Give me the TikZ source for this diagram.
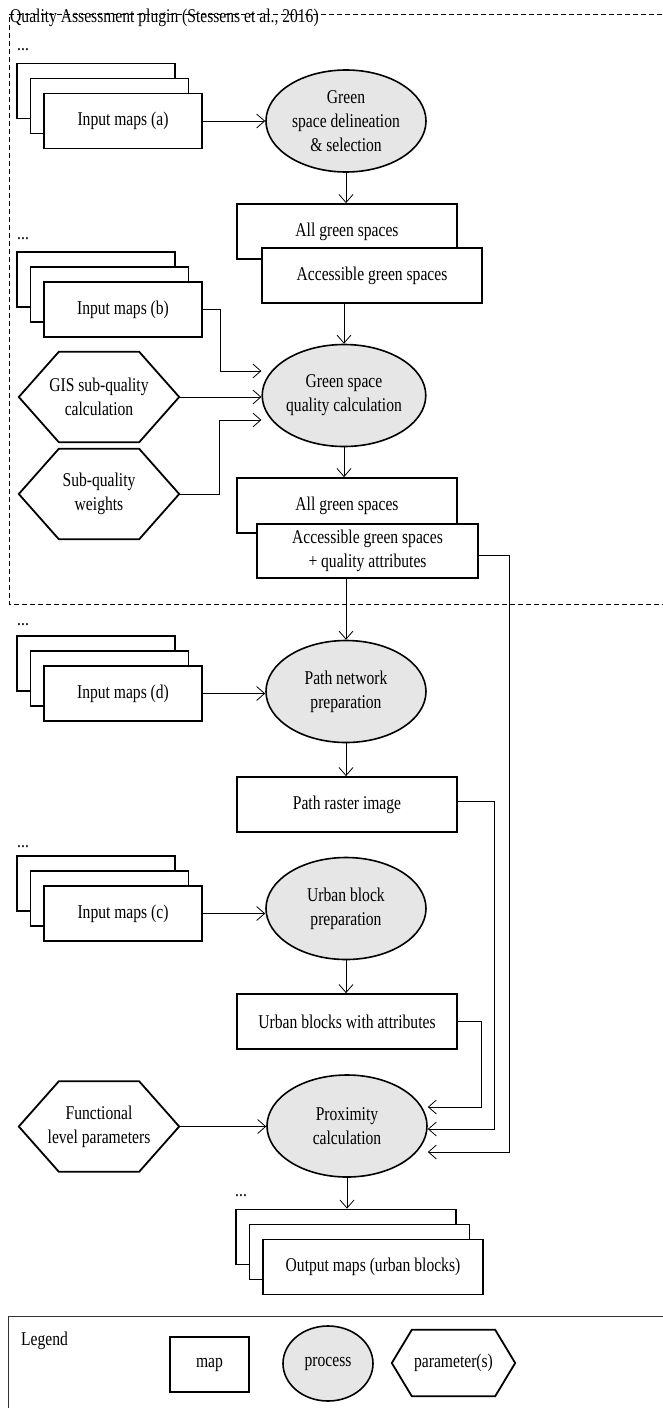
\documentclass[tikz,border=0pt]{standalone}
\usepackage{fontspec}
\setmainfont{Liberation Serif}[FakeStretch=0.8]
\usetikzlibrary{shapes.geometric,arrows.meta,calc}
\definecolor{procgray}{RGB}{230,230,230}
\newcommand\mapstack[5]{% name, x, y, width, text
  \node[mapbox,minimum width=#4] (#1-3) at (#2-27,#3-30) {};
  \node[mapbox,minimum width=#4] (#1-2) at (#2-13.5,#3-15) {};
  \node[mapbox,minimum width=#4] (#1) at (#2,#3) {#5};
}
\newcommand\hexnode[7]{% name, x, y, text, width, height, slant
  \node[hexbox,minimum width=#5,minimum height=#6] (#1) at (#2,#3) {#4};
  \draw[hexline] (#1.west) -- ([xshift=#7]#1.north west) -- ([xshift=-#7]#1.north east)
    -- (#1.east) -- ([xshift=-#7]#1.south east) -- ([xshift=#7]#1.south west) -- cycle;
}
\begin{document}
\begin{tikzpicture}[x=1pt,y=-1pt,
  every node/.style={font=\fontsize{19.5}{24}\selectfont},
  mapbox/.style={draw,line width=1.8pt,fill=white,minimum width=158pt,minimum height=55pt,inner sep=0pt,align=center},
  proc/.style={ellipse,draw,line width=1.6pt,fill=procgray,minimum width=160pt,minimum height=102pt,inner sep=0pt,align=center},
  hexbox/.style={inner sep=0pt,align=center},
  hexline/.style={line width=1.8pt,line join=miter},
  conn/.style={line width=0.8pt,-{Straight Barb[length=8pt,width=14pt]}},
  plugframe/.style={line width=0.8pt,dash pattern=on 5pt off 3pt},
  legframe/.style={line width=1pt,draw=black!80},
  dots/.style={anchor=base west,inner sep=0pt}
]
\useasboundingbox (0,0) rectangle (663,1408);
\clip (0,0) rectangle (663,1408);

% frames
\draw[plugframe] (670,14) -- (9,14) -- (9,604) -- (670,604);
\node[anchor=base west,inner sep=0pt] (title) at (10,23) {Quality Assessment plugin (Stessens et al., 2016)};
\draw[legframe] (8,1316) rectangle (680,1420);

% dots
\node[dots] (dotsa) at (17,50) {...};
\node[dots] (dotsb) at (17,239) {...};
\node[dots] (dotsd) at (17,625) {...};
\node[dots] (dotsc) at (17,847) {...};
\node[dots] (dotso) at (235,1196) {...};

% map stacks
\mapstack{a1}{123}{121}{158pt}{Input maps (a)}
\mapstack{b1}{123}{309.5}{158pt}{Input maps (b)}
\mapstack{d1}{123}{693.5}{158pt}{Input maps (d)}
\mapstack{c1}{123}{913.5}{158pt}{Input maps (c)}
\mapstack{out}{373}{1267}{220pt}{Output maps (urban blocks)}

% processes
\node[proc] (e1) at (346,121) {Green\\space delineation\\\& selection};
\node[proc] (e2) at (344,395.5) {Green space\\quality calculation};
\node[proc] (e3) at (346,691.5) {Path network\\preparation};
\node[proc] (e4) at (346,908.5) {Urban block\\preparation};
\node[proc] (e5) at (347,1126) {Proximity\\calculation};

% green space maps
\node[mapbox,minimum width=220pt] (g1b) at (347,231.5) {All green spaces};
\node[mapbox,minimum width=220pt] (g1f) at (372,275.5) {Accessible green spaces};
\node[mapbox,minimum width=220pt] (g2b) at (347,505.5) {All green spaces};
\node[mapbox,minimum width=221pt,minimum height=54pt] (g2f) at (367.5,551) {Accessible green spaces\\+ quality attributes};
\node[mapbox,minimum width=220pt] (raster) at (347,804.5) {Path raster image};
\node[mapbox,minimum width=220pt] (urban) at (347,1021.5) {Urban blocks with attributes};

% parameters
\hexnode{gis}{99}{397}{GIS sub-quality\\calculation}{160pt}{90pt}{40pt}
\hexnode{sub}{99}{494}{Sub-quality\\weights}{160pt}{90pt}{40pt}
\hexnode{func}{99}{1126.5}{Functional\\level parameters}{160pt}{90pt}{40pt}

% connectors
\coordinate (e2a) at ($(e2.west)+(0,-24.5)$);
\coordinate (e2c) at ($(e2.west)+(0,24.5)$);
\coordinate (e5a) at ($(e5.east)+(0,-19)$);
\coordinate (e5b) at ($(e5.east)+(0,3)$);
\coordinate (e5c) at ($(e5.east)+(0,26)$);

\draw[conn] (a1.east) -- (a1.east -| e1.west);
\draw[conn] (e1.south) -- (e1.south |- g1b.north);
\draw[conn] (e2.north |- g1f.south) -- (e2.north);
\draw[conn] (b1.east) -- ++(17,0) |- (e2a);
\draw[conn] (gis.east) -- (gis.east -| e2.west);
\draw[conn] (sub.east) -- ++(40,0) |- (e2c);
\draw[conn] (e2.south) -- (e2.south |- g2b.north);
\draw[conn] (e3.north |- g2f.south) -- (e3.north);
\draw[conn] ([yshift=-4pt]g2f.east) -- ++(30,0) |- (e5c);
\draw[conn] (d1.east) -- (d1.east -| e3.west);
\draw[conn] (e3.south) -- (e3.south |- raster.north);
\draw[conn] ([yshift=3.5pt]raster.east) -- ++(36,0) |- (e5b);
\draw[conn] (c1.east) -- (c1.east -| e4.west);
\draw[conn] (e4.south) -- (e4.south |- urban.north);
\draw[conn] (urban.east) -- ++(23,0) |- (e5a);
\draw[conn] (func.east) -- (func.east -| e5.west);
\draw[conn] (e5.south) -- (e5.south |- out-3.north);

% legend
\node[anchor=base west,inner sep=0pt] (legtitle) at (21,1345) {Legend};
\node[mapbox,minimum width=79pt,minimum height=55pt] (legmap) at (209.5,1364.5) {map};
\node[proc,minimum width=90pt,minimum height=75pt] (legproc) at (328,1363.5) {process};
\hexnode{legpar}{453.5}{1363}{parameter(s)}{123pt}{66pt}{20pt}
\end{tikzpicture}
\end{document}
